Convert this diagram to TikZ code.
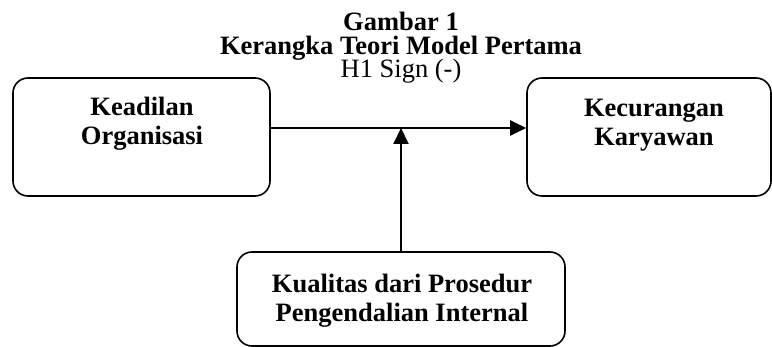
\documentclass[tikz,border=0pt]{standalone}
\usepackage{fontspec}
\setmainfont{Liberation Serif}
\usetikzlibrary{arrows.meta}
\begin{document}
\begin{tikzpicture}[x=1pt,y=-1pt,
  box/.style={draw,line width=1.6pt,rounded corners=15pt,inner sep=0pt},
  lbl/.style={font=\fontsize{26.5}{29}\selectfont\bfseries,align=center,anchor=base,inner sep=0pt},
  hyp/.style={font=\fontsize{26.5}{29}\selectfont,anchor=base,inner sep=0pt},
  arr/.style={line width=2pt,-{Triangle[length=16pt,width=15pt]}}]
\useasboundingbox (0,0) rectangle (772,347);
\node[box,minimum width=257pt,minimum height=118pt] (b1) at (141.5,137) {};
\node[box,minimum width=244pt,minimum height=118pt] (b2) at (649,137) {};
\node[box,minimum width=328pt,minimum height=94pt] (b3) at (401,299) {};
\node[lbl] (t1) at (142,145) {Keadilan\\Organisasi};
\node[lbl] (t2) at (654,146) {Kecurangan\\Karyawan};
\node[lbl] (t3) at (402,322) {Kualitas dari Prosedur\\Pengendalian Internal};
\node[lbl] (g1) at (401,31) {Gambar 1};
\node[lbl] (g2) at (401,55) {Kerangka Teori Model Pertama};
\node[hyp] (h1) at (401,77.5) {H1 Sign (-)};
\coordinate (j) at (401,128);
\draw[arr] (b1.east |- j) -- (b2.west |- j);
\draw[arr] (b3.north) -- (j);
\end{tikzpicture}
\end{document}
